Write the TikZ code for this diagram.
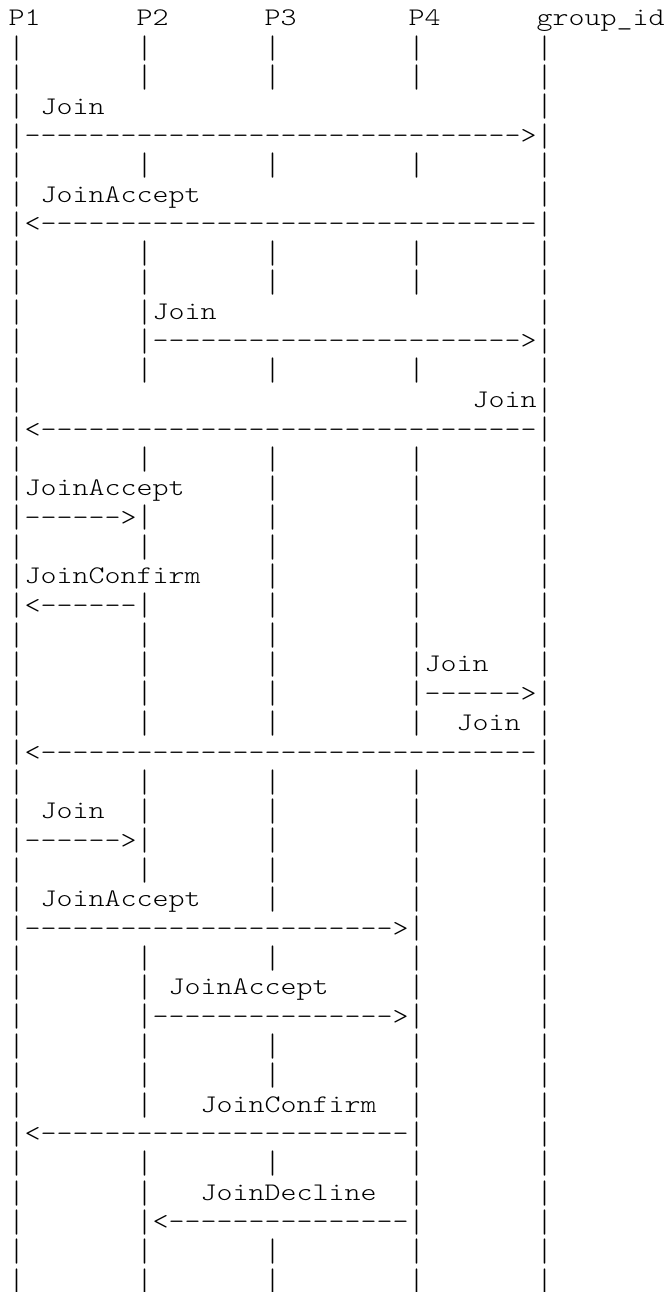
\documentclass[tikz,border=0pt]{standalone}
\usepackage{graphicx}
\usepackage{fontspec}
\setmonofont{lmmonolt10-regular.otf}[FakeStretch=1.2030]
\newcommand\asciifont{\ttfamily\fontsize{19pt}{22pt}\selectfont}
% the vertical bar of the lifelines, drawn a little taller as in Courier New
\newcommand\B{\raisebox{-2pt}{\scalebox{1}[1.28]{|}}}
% repeat #2 exactly #1 times
\newcommand\rep[2]{\ifnum#1>0 #2\expandafter\rep\expandafter{\the\numexpr#1-1\relax}{#2}\fi}
\newcommand\bars{\B\rep{7}{~}\B\rep{7}{~}\B\rep{8}{~}\B\rep{7}{~}\B}
\begin{document}
\begin{tikzpicture}[x=0.75pt,y=-0.75pt,
  asciiline/.style={anchor=base west,inner sep=0pt,outer sep=0pt,font=\asciifont,text=black}]
\fill[white] (0,0) rectangle (668,1292);
\useasboundingbox (0,0) rectangle (668,1292);
\newcommand\aline[2]{\node[asciiline] (L#1) at (8.7,{26+(#1-1)*29.36}) {#2};}
\aline{1}{P1\rep{6}{~}P2\rep{6}{~}P3\rep{7}{~}P4\rep{6}{~}group\_id}
\aline{2}{\bars}
\aline{3}{\bars}
\aline{4}{\B~Join\rep{27}{~}\B}
\aline{5}{\B\rep{31}{-}>\B}
\aline{6}{\bars}
\aline{7}{\B~JoinAccept\rep{21}{~}\B}
\aline{8}{\B<\rep{31}{-}\B}
\aline{9}{\bars}
\aline{10}{\bars}
\aline{11}{\B\rep{7}{~}\B Join\rep{20}{~}\B}
\aline{12}{\B\rep{7}{~}\B\rep{23}{-}>\B}
\aline{13}{\bars}
\aline{14}{\B\rep{28}{~}Join\B}
\aline{15}{\B<\rep{31}{-}\B}
\aline{16}{\bars}
\aline{17}{\B JoinAccept\rep{5}{~}\B\rep{8}{~}\B\rep{7}{~}\B}
\aline{18}{\B\rep{6}{-}>\B\rep{7}{~}\B\rep{8}{~}\B\rep{7}{~}\B}
\aline{19}{\bars}
\aline{20}{\B JoinConfirm\rep{4}{~}\B\rep{8}{~}\B\rep{7}{~}\B}
\aline{21}{\B<\rep{6}{-}\B\rep{7}{~}\B\rep{8}{~}\B\rep{7}{~}\B}
\aline{22}{\bars}
\aline{23}{\B\rep{7}{~}\B\rep{7}{~}\B\rep{8}{~}\B Join\rep{3}{~}\B}
\aline{24}{\B\rep{7}{~}\B\rep{7}{~}\B\rep{8}{~}\B\rep{6}{-}>\B}
\aline{25}{\B\rep{7}{~}\B\rep{7}{~}\B\rep{8}{~}\B~~Join~\B}
\aline{26}{\B<\rep{31}{-}\B}
\aline{27}{\bars}
\aline{28}{\B~Join~~\B\rep{7}{~}\B\rep{8}{~}\B\rep{7}{~}\B}
\aline{29}{\B\rep{6}{-}>\B\rep{7}{~}\B\rep{8}{~}\B\rep{7}{~}\B}
\aline{30}{\bars}
\aline{31}{\B~JoinAccept\rep{4}{~}\B\rep{8}{~}\B\rep{7}{~}\B}
\aline{32}{\B\rep{23}{-}>\B\rep{7}{~}\B}
\aline{33}{\bars}
\aline{34}{\B\rep{7}{~}\B~JoinAccept\rep{5}{~}\B\rep{7}{~}\B}
\aline{35}{\B\rep{7}{~}\B\rep{15}{-}>\B\rep{7}{~}\B}
\aline{36}{\bars}
\aline{37}{\bars}
\aline{38}{\B\rep{7}{~}\B\rep{3}{~}JoinConfirm~~\B\rep{7}{~}\B}
\aline{39}{\B<\rep{23}{-}\B\rep{7}{~}\B}
\aline{40}{\bars}
\aline{41}{\B\rep{7}{~}\B\rep{3}{~}JoinDecline~~\B\rep{7}{~}\B}
\aline{42}{\B\rep{7}{~}\B<\rep{15}{-}\B\rep{7}{~}\B}
\aline{43}{\bars}
\aline{44}{\bars}
\end{tikzpicture}
\end{document}
